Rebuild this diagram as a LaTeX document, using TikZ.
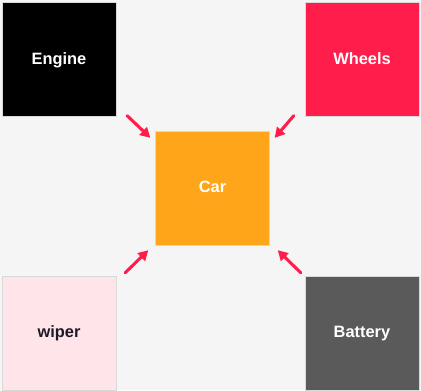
\documentclass[tikz,border=0pt]{standalone}
\usepackage{fontspec}
\setmainfont{Liberation Sans}
\usetikzlibrary{arrows.meta,calc}
\definecolor{bggray}{RGB}{245,245,245}
\definecolor{carorange}{RGB}{255,165,26}
\definecolor{hotred}{RGB}{255,30,75}
\definecolor{softpink}{RGB}{255,228,234}
\definecolor{darkgray}{RGB}{90,90,90}
\definecolor{inkdark}{RGB}{26,26,40}

\begin{document}
\begin{tikzpicture}[
    x=0.75pt, y=-0.75pt,
    part/.style={rectangle, draw=black!15, line width=0.3pt, minimum width=85.5pt, minimum height=85.5pt, text centered, inner sep=0pt, text height=1.38ex, text depth=0pt, font=\fontsize{12.3}{14}\selectfont\bfseries, text=white},
    feed/.style={draw=hotred, line width=2.3pt, line cap=round, -{Triangle[length=7.5pt,width=8pt]}}
]

% Latar
\fill[bggray] (0,0) rectangle (421,390);
\useasboundingbox (0,0) rectangle (421,390);

% === KOMPONEN ===
\node (engine) [part, fill=black] at (59,59.5) {Engine};
\node (wheels) [part, fill=hotred] at (362,59.5) {Wheels};
\node (car) [part, fill=carorange] at (212.5,188) {Car};
\node (wiper) [part, fill=softpink, text=inkdark] at (59,333) {wiper};
\node (battery) [part, fill=darkgray] at (362,333) {Battery};

% === PANAH KE MOBIL ===
\draw[feed] ($(engine.south east)+(11,-1)$) -- ($(car.north west)+(-5,7)$);
\draw[feed] ($(wheels.south west)+(-11,-1)$) -- ($(car.north east)+(5,7)$);
\draw[feed] ($(wiper.north east)+(9,-3)$) -- ($(car.south west)+(-7,5)$);
\draw[feed] ($(battery.north west)+(-4,-3)$) -- ($(car.south east)+(8,5)$);

\end{tikzpicture}
\end{document}
